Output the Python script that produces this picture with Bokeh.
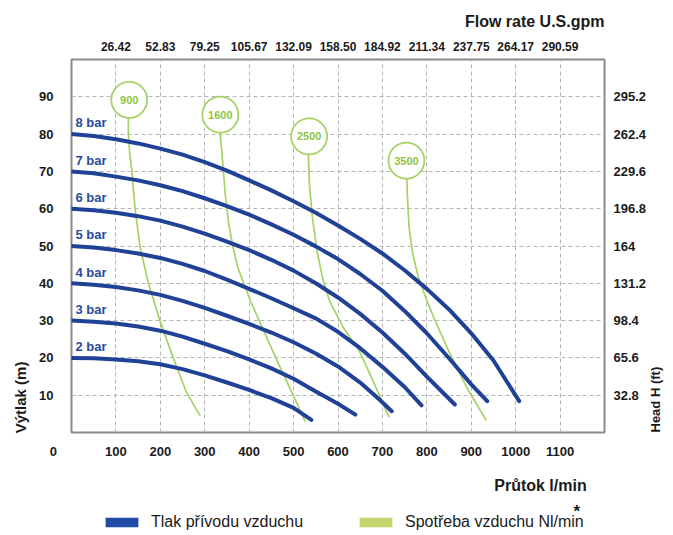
from bokeh.plotting import figure
from bokeh.models import (Range1d, LinearAxis, FixedTicker, Label, Legend, LegendItem, Title)
from bokeh.layouts import column
from bokeh.core.properties import value
from bokeh.embed import file_html
from bokeh.resources import INLINE
import math

# ---------------- data ----------------
flow_ticks = [100, 200, 300, 400, 500, 600, 700, 800, 900, 1000, 1100]
gpm_labels = ["26.42", "52.83", "79.25", "105.67", "132.09", "158.50",
              "184.92", "211.34", "237.75", "264.17", "290.59"]
head_ticks = [10, 20, 30, 40, 50, 60, 70, 80, 90]
ft_labels = ["32.8", "65.6", "98.4", "131.2", "164", "196.8", "229.6", "262.4", "295.2"]

# pressure curves (bar): flow l/min, head m
bar_names = ["2 bar", "3 bar", "4 bar", "5 bar", "6 bar", "7 bar", "8 bar"]
q_2bar = [0, 50, 100, 150, 200, 250, 300, 350, 400, 450, 500, 540]
h_2bar = [20, 19.9, 19.6, 19.1, 18.3, 17.0, 15.3, 13.4, 11.4, 9.2, 6.6, 3.4]
q_3bar = [0, 50, 100, 150, 200, 250, 300, 350, 400, 450, 500, 550, 600, 639]
h_3bar = [30, 29.7, 29.2, 28.4, 27.3, 25.7, 23.8, 21.8, 19.6, 17.2, 14.4, 11.0, 7.7, 4.8]
q_4bar = [0, 50, 100, 150, 200, 250, 300, 350, 400, 450, 500, 550, 600, 650, 690, 721]
h_4bar = [40, 39.6, 39.0, 38.1, 36.9, 35.3, 33.4, 31.3, 29.1, 26.8, 24.2, 21.2, 17.7, 13.4, 9.2, 5.7]
q_5bar = [0, 50, 100, 150, 200, 250, 300, 350, 400, 450, 500, 550, 600, 650, 700, 750, 788]
h_5bar = [50, 49.6, 48.9, 48.0, 46.8, 45.2, 43.3, 41.0, 38.5, 36.0, 33.3, 30.6, 27.0, 22.6, 17.6, 12.2, 7.3]
q_6bar = [0, 50, 100, 150, 200, 250, 300, 350, 400, 450, 500, 550, 600, 650, 700, 750, 800, 863]
h_6bar = [60, 59.6, 58.9, 58.0, 56.8, 55.2, 53.3, 51.2, 48.9, 46.3, 43.4, 40.0, 36.2, 31.8, 26.8, 21.2, 15.0, 7.5]
q_7bar = [0, 50, 100, 150, 200, 250, 300, 350, 400, 450, 500, 550, 600, 650, 700, 750, 800, 850, 900, 936]
h_7bar = [70, 69.5, 68.6, 67.6, 66.3, 64.7, 62.8, 60.7, 58.4, 55.8, 53.0, 49.9, 46.5, 42.5, 38.0,
          32.6, 26.6, 19.9, 12.9, 8.4]
q_8bar = [0, 50, 100, 150, 200, 250, 300, 350, 400, 450, 500, 550, 600, 650, 700, 750, 800,
          850, 900, 950, 1008]
h_8bar = [80, 79.5, 78.6, 77.5, 76.1, 74.5, 72.5, 70.2, 67.6, 64.9, 62.0, 58.9, 55.5, 51.9,
          48.0, 43.5, 38.5, 33.0, 26.6, 19.3, 8.4]

# air consumption curves (Nl/min)
air_names = ["900", "1600", "2500", "3500"]
air_label_q = [130, 335, 535, 754]
air_label_h = [89.2, 85.2, 79.4, 72.9]
q_900 = [128, 128, 131, 136, 143, 154, 173, 199, 229, 258, 278, 290]
h_900 = [84.5, 80, 75, 70, 60, 50, 40, 30, 20, 11, 6.8, 4.5]
q_1600 = [334, 338, 342, 347, 354, 363, 375, 403, 430, 460, 495, 526]
h_1600 = [80.5, 76, 70, 63, 56, 50, 44, 35.3, 28, 20, 11, 3]
q_2500 = [533, 536, 542, 553, 566, 581, 610, 648, 680, 715]
h_2500 = [74.8, 66, 58, 48.5, 41, 35.3, 28.5, 21.9, 13.5, 4.1]
q_3500 = [755, 756, 760, 768, 780, 795, 815, 849, 890, 934]
h_3500 = [68.2, 64, 55, 48, 42, 37, 31, 21.9, 12, 3.2]

legend_labels = ["Tlak přívodu vzduchu", "Spotřeba vzduchu Nl/min"]

BLUE = "#1f4196"
BLUE_TXT = "#2b4c9b"
GREEN = "#a8d166"
GREEN_TXT = "#8cc541"
FONT = "Liberation Sans"
DARK = "#1a1a1a"

p = figure(width=673, height=470, output_backend="svg", toolbar_location=None,
           x_range=Range1d(0, 1200), y_range=Range1d(0, 100),
           min_border_left=69, min_border_right=65, min_border_top=59, min_border_bottom=38,
           x_axis_location=None, y_axis_location=None)
p.background_fill_color = "white"
p.border_fill_color = "white"
p.outline_line_color = "#8a8a8a"
p.outline_line_width = 2


def style_axis(ax, size, standoff):
    ax.major_tick_out = 0
    ax.major_tick_in = 0
    ax.minor_tick_out = 0
    ax.minor_tick_in = 0
    ax.axis_line_color = None
    ax.major_label_text_font = FONT
    ax.major_label_text_font_style = "bold"
    ax.major_label_text_font_size = size
    ax.major_label_text_color = DARK
    ax.major_label_standoff = standoff


bottom_over = {t: str(t) for t in flow_ticks}
bottom_over[0] = "0" + "\u00a0" * 10
bottom = LinearAxis(ticker=FixedTicker(ticks=[0] + flow_ticks), major_label_overrides=bottom_over)
style_axis(bottom, "13px", 11)
p.add_layout(bottom, "below")

top = LinearAxis(ticker=FixedTicker(ticks=flow_ticks),
                 major_label_overrides={t: s for t, s in zip(flow_ticks, gpm_labels)})
style_axis(top, "12px", 9)
p.add_layout(top, "above")

left = LinearAxis(ticker=FixedTicker(ticks=head_ticks))
style_axis(left, "13px", 18)
p.add_layout(left, "left")

# left axis title (positioned near the bottom like the reference)
left_title = LinearAxis(ticker=FixedTicker(ticks=[19]), major_label_overrides={19: "Výtlak (m)"},
                        major_label_orientation=math.pi / 2)
style_axis(left_title, "15px", 16)
p.add_layout(left_title, "left")

right = LinearAxis(ticker=FixedTicker(ticks=head_ticks),
                   major_label_overrides={t: s for t, s in zip(head_ticks, ft_labels)})
style_axis(right, "13px", 9)
p.add_layout(right, "right")

right_title = LinearAxis(ticker=FixedTicker(ticks=[0]), major_label_overrides={0: "Head H (ft)"},
                         major_label_orientation=math.pi / 2)
style_axis(right_title, "13px", 6)
p.add_layout(right_title, "right")

p.add_layout(Title(text="Flow rate U.S.gpm", align="right", text_font=FONT,
                   text_font_size="16px", text_font_style="bold", text_color=DARK,
                   standoff=17), "above")

p.xgrid.ticker = FixedTicker(ticks=flow_ticks)
p.ygrid.ticker = FixedTicker(ticks=head_ticks)
for g in (p.xgrid, p.ygrid):
    g.grid_line_color = "#b4b4b4"
    g.grid_line_dash = "4 3"
    g.grid_line_width = 1

# green air consumption lines
for q, h in [(q_900, h_900), (q_1600, h_1600), (q_2500, h_2500), (q_3500, h_3500)]:
    p.line(q, h, line_color=GREEN, line_width=1.7, line_join="round")

# blue pressure curves
curves = [(q_2bar, h_2bar), (q_3bar, h_3bar), (q_4bar, h_4bar), (q_5bar, h_5bar),
          (q_6bar, h_6bar), (q_7bar, h_7bar), (q_8bar, h_8bar)]
for q, h in curves:
    p.line(q, h, line_color=BLUE, line_width=4, line_cap="round", line_join="round")

# bar labels
p.text(x=[9] * len(bar_names), y=[c[1][0] + 3.0 for c in curves], text=bar_names,
       text_font=value(FONT), text_font_style="bold", text_font_size="13px",
       text_color=BLUE_TXT, text_baseline="middle", text_align="left")

# air consumption circles
p.scatter(air_label_q, air_label_h, marker="circle", size=36, fill_color="white",
          line_color=GREEN, line_width=1.8)
p.text(x=air_label_q, y=air_label_h, text=air_names, text_font=value(FONT),
       text_font_style="bold", text_font_size="11px", text_color=GREEN_TXT,
       text_align="center", text_baseline="middle")

# ---------------- footer: axis title + legend ----------------
# the footer frame is aligned with the main frame (page pixels 69..608)
f = figure(width=673, height=65, output_backend="svg", toolbar_location=None,
           x_range=Range1d(69, 608), y_range=Range1d(0, 65),
           min_border_left=0, min_border_right=0, min_border_top=0, min_border_bottom=0,
           x_axis_location=None, y_axis_location=None)
f.outline_line_color = None
f.xgrid.visible = False
f.ygrid.visible = False
f.background_fill_color = "white"
f.border_fill_color = "white"

f.add_layout(Label(x=590, y=50, text="Průtok l/min", text_font=FONT, text_font_size="16px",
                   text_font_style="bold", text_color=DARK, text_align="right",
                   text_baseline="middle"))
f.add_layout(Label(x=580, y=24, text="*", text_font=FONT, text_font_size="17px",
                   text_font_style="bold", text_color=DARK, text_align="center",
                   text_baseline="middle"))

r_blue = f.rect(x=[-5000], y=[-5000], width=1, height=1, fill_color="#1f4aa6", line_color=None)
r_green = f.rect(x=[-5000], y=[-5000], width=1, height=1, fill_color="#c3d66b", line_color=None)

for rend, text, loc in [(r_blue, legend_labels[0], (30, 4)),
                        (r_green, legend_labels[1], (284, 4))]:
    lg = Legend(items=[LegendItem(label=text, renderers=[rend])], location=loc,
                orientation="horizontal", padding=0, margin=0, spacing=0,
                glyph_width=41, glyph_height=12, label_height=16, label_standoff=9,
                label_text_font=FONT, label_text_font_size="16px",
                label_text_color=DARK, border_line_color=None,
                background_fill_alpha=0)
    f.add_layout(lg, "center")

layout = column(p, f, spacing=0)
open("out.html", "w").write(file_html(layout, INLINE))
